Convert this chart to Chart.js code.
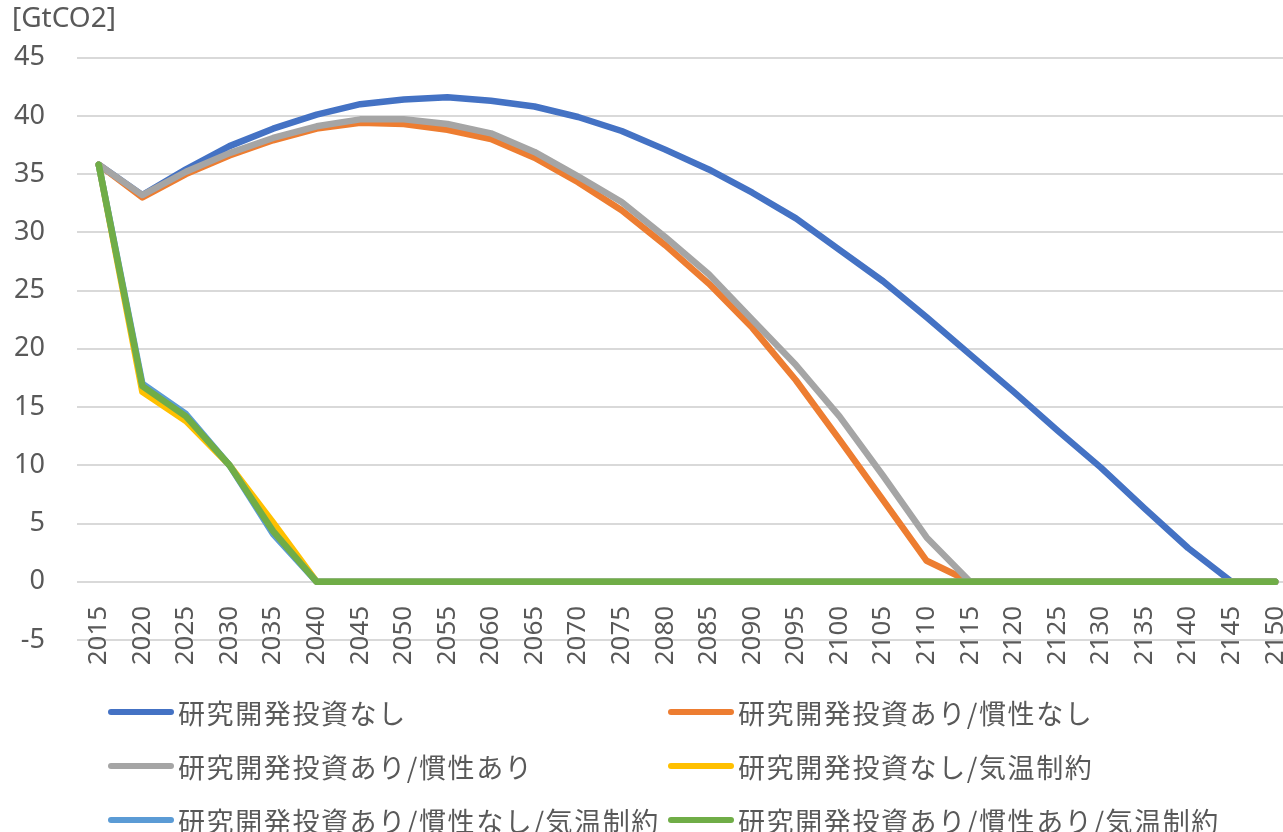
<!DOCTYPE html>
<html lang="ja">
<head>
<meta charset="utf-8">
<title>CO2排出量の推移</title>
<script src="https://cdn.jsdelivr.net/npm/chart.js@4.4.1/dist/chart.umd.min.js"></script>
<style>
  html, body { margin: 0; padding: 0; background: #fff; overflow: hidden; }
  #wrap { position: relative; width: 1297px; height: 832px; }
  #legend { position: absolute; left: 0; top: 0; width: 1297px; height: 832px; pointer-events: none;
    font-family: "Noto Sans CJK JP", sans-serif; font-size: 27px; line-height: 1; color: #595959; letter-spacing: 1.6px; }
  .item { position: absolute; display: flex; align-items: center; white-space: nowrap; height: 40px; }
  .swatch { width: 66px; height: 6px; border-radius: 3px; margin-right: 4px; }
</style>
</head>
<body>
<div id="wrap">
  <canvas id="chart" width="1297" height="832"></canvas>
  <div id="legend"></div>
</div>
<script>
// years on the category axis
const years = ['2015','2020','2025','2030','2035','2040','2045','2050','2055','2060',
  '2065','2070','2075','2080','2085','2090','2095','2100','2105','2110',
  '2115','2120','2125','2130','2135','2140','2145','2150'];

// emissions [GtCO2] per scenario
const noRnd = [35.8, 33.2, 35.4, 37.4, 38.9, 40.1, 41.0, 41.4, 41.6, 41.3,
  40.8, 39.9, 38.7, 37.1, 35.4, 33.4, 31.2, 28.5, 25.8, 22.7,
  19.5, 16.3, 13.0, 9.8, 6.3, 2.9, 0, 0];
const rndNoInertia = [35.8, 33.0, 35.0, 36.6, 37.9, 38.9, 39.4, 39.3, 38.8, 38.0,
  36.4, 34.3, 31.9, 28.9, 25.6, 21.8, 17.3, 12.2, 7.0, 1.8,
  0, 0, 0, 0, 0, 0, 0, 0];
const rndInertia = [35.8, 33.2, 35.2, 36.8, 38.1, 39.1, 39.7, 39.7, 39.3, 38.5,
  36.9, 34.8, 32.6, 29.6, 26.4, 22.5, 18.6, 14.2, 9.1, 3.8,
  0, 0, 0, 0, 0, 0, 0, 0];
const noRndTemp = [35.8, 16.3, 13.8, 10.0, 5.1, 0, 0, 0, 0, 0,
  0, 0, 0, 0, 0, 0, 0, 0, 0, 0,
  0, 0, 0, 0, 0, 0, 0, 0];
const rndNoInertiaTemp = [35.8, 17.0, 14.4, 10.0, 4.1, 0, 0, 0, 0, 0,
  0, 0, 0, 0, 0, 0, 0, 0, 0, 0,
  0, 0, 0, 0, 0, 0, 0, 0];
const rndInertiaTemp = [35.8, 16.8, 14.2, 10.0, 4.35, 0, 0, 0, 0, 0,
  0, 0, 0, 0, 0, 0, 0, 0, 0, 0,
  0, 0, 0, 0, 0, 0, 0, 0];

const seriesNames = ['研究開発投資なし', '研究開発投資あり/慣性なし', '研究開発投資あり/慣性あり',
  '研究開発投資なし/気温制約', '研究開発投資あり/慣性なし/気温制約', '研究開発投資あり/慣性あり/気温制約'];
const seriesData = [noRnd, rndNoInertia, rndInertia, noRndTemp, rndNoInertiaTemp, rndInertiaTemp];
const seriesColors = ['#4472C4', '#ED7D31', '#A5A5A5', '#FFC000', '#5B9BD5', '#70AD47'];

const textColor = '#595959';
const tickFont = { family: 'Noto Sans', size: 26 };

const chart = new Chart(document.getElementById('chart'), {
  type: 'line',
  data: {
    labels: years,
    datasets: seriesNames.map((name, i) => ({
      label: name,
      data: seriesData[i],
      // later series are painted over earlier ones
      order: seriesNames.length - i,
      borderColor: seriesColors[i],
      backgroundColor: seriesColors[i],
      borderWidth: 6.5,
      borderCapStyle: 'round',
      borderJoinStyle: 'round',
      pointRadius: 0,
      tension: 0
    }))
  },
  options: {
    responsive: false,
    animation: false,
    layout: { padding: { left: 12, right: 0, top: 0, bottom: 192 } },
    plugins: {
      legend: { display: false },
      tooltip: { enabled: false },
      title: {
        display: true, text: '[GtCO2]', align: 'start', color: textColor,
        font: { family: 'Noto Sans', size: 28, weight: 'normal' },
        padding: { top: 2, bottom: 22 }
      }
    },
    scales: {
      x: {
        position: { y: 0 },
        offset: true,
        grid: { display: false, drawTicks: false },
        border: { display: false },
        ticks: { minRotation: 90, maxRotation: 90, autoSkip: false, padding: 24, color: textColor, font: tickFont },
        afterFit: s => { s.height = 0; s.paddingLeft = 0; s.paddingRight = 0; }
      },
      y: {
        min: -5, max: 45,
        grid: { color: '#D9D9D9', lineWidth: 2, drawTicks: false },
        border: { display: false },
        ticks: { stepSize: 5, padding: 32, color: textColor, font: { family: 'Noto Sans', size: 27 } },
        afterFit: s => { s.width = 65; }
      }
    }
  }
});

// two-column legend under the plot
const legendEl = document.getElementById('legend');
const colLeft = [108, 668];
const rowMid = [712, 766, 820];
chart.data.datasets.forEach((ds, i) => {
  const item = document.createElement('div');
  item.className = 'item';
  item.style.left = colLeft[i % 2] + 'px';
  item.style.top = (rowMid[Math.floor(i / 2)] - 20) + 'px';
  const sw = document.createElement('span');
  sw.className = 'swatch';
  sw.style.background = ds.borderColor;
  const tx = document.createElement('span');
  tx.textContent = ds.label;
  item.appendChild(sw);
  item.appendChild(tx);
  legendEl.appendChild(item);
});
</script>
</body>
</html>
